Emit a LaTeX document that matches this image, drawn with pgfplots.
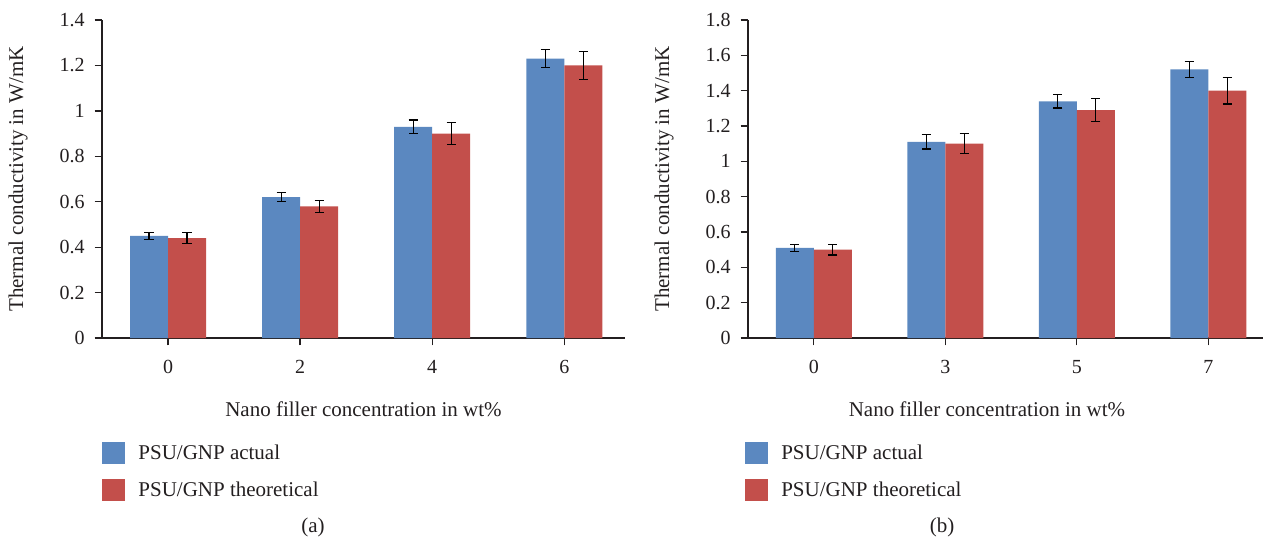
\documentclass[border=0pt]{standalone}
\usepackage{fontspec}
\setmainfont{Liberation Serif}
\usepackage{pgfplots}
\pgfplotsset{compat=1.18}

\definecolor{actual}{RGB}{91,136,192}
\definecolor{theory}{RGB}{195,79,75}
\definecolor{ink}{RGB}{35,31,32}

\pgfplotsset{
  sqlegend/.style={legend image code/.code={\fill[##1] (0pt,-5.5pt) rectangle (11.5pt,5.5pt);}},
  ebar/.style={error bars/.cd, y dir=both, y explicit,
    error bar style={black, line width=0.6pt},
    error mark options={rotate=90, black, line width=0.6pt, mark size=2.3pt}},
  panel/.style={
    scale only axis, height=159pt,
    ybar=0pt, bar width=19pt,
    ymin=0, xmin=-0.5, xtick={0,1,2,3},
    ytick distance=0.2,
    axis x line*=bottom, axis y line*=left,
    axis line style={ink, line width=0.65pt},
    tick style={ink, line width=0.65pt},
    tick align=outside, major tick length=3.7pt,
    /pgf/number format/assume math mode=true,
    tick label style={font=\fontsize{10}{11}\selectfont, text=ink},
    xticklabel style={yshift=-4pt},
    yticklabel style={xshift=-1.5pt},
    label style={font=\fontsize{10.5}{12}\selectfont, text=ink},
    ylabel={Thermal conductivity in W/mK},
    xlabel={Nano filler concentration in wt\%},
    ylabel style={at={(rel axis cs:0,0.5)}, yshift=42pt, anchor=center},
    legend cell align=left,
    legend style={draw=none, fill=none, anchor=north west, inner sep=0pt,
      row sep=7.5pt, font=\fontsize{10.5}{12}\selectfont, text=ink,
      nodes={inner sep=0pt},
      /tikz/every odd column/.append style={column sep=6.5pt}},
  }
}

\begin{document}
\begin{tikzpicture}
\useasboundingbox (0,0) rectangle (631.5pt,-268pt);

% (a)
\begin{axis}[panel,
    at={(51pt,-169pt)}, anchor=south west,
    width=261.5pt, xmax=3.46, ymax=1.4,
    xticklabels={0,2,4,6},
    xlabel style={at={(rel axis cs:0.5,0)}, yshift=-35.5pt, anchor=center},
    legend style={at={(rel axis cs:0,-0.327)}}]
\addplot[fill=actual, draw=none, sqlegend, ebar] coordinates {
  (0,0.45) +- (0,0.015)
  (1,0.62) +- (0,0.02)
  (2,0.93) +- (0,0.03)
  (3,1.23) +- (0,0.04)
};
\addplot[fill=theory, draw=none, sqlegend, ebar] coordinates {
  (0,0.44) +- (0,0.024)
  (1,0.58) +- (0,0.027)
  (2,0.90) +- (0,0.048)
  (3,1.20) +- (0,0.062)
};
\legend{PSU/GNP actual, PSU/GNP theoretical}
\end{axis}

% (b)
\begin{axis}[panel,
    at={(374pt,-169pt)}, anchor=south west,
    width=257.5pt, xmax=3.416, ymax=1.8,
    xticklabels={0,3,5,7},
    xlabel style={at={(rel axis cs:0.464,0)}, yshift=-35.5pt, anchor=center},
    legend style={at={(rel axis cs:-0.006,-0.327)}}]
\addplot[fill=actual, draw=none, sqlegend, ebar] coordinates {
  (0,0.51) +- (0,0.019)
  (1,1.11) +- (0,0.04)
  (2,1.34) +- (0,0.038)
  (3,1.52) +- (0,0.046)
};
\addplot[fill=theory, draw=none, sqlegend, ebar] coordinates {
  (0,0.50) +- (0,0.03)
  (1,1.10) +- (0,0.057)
  (2,1.29) +- (0,0.065)
  (3,1.40) +- (0,0.075)
};
\legend{PSU/GNP actual, PSU/GNP theoretical}
\end{axis}

\node[font=\fontsize{10.5}{12}\selectfont, text=ink] at (156.5pt,-263.5pt) {(a)};
\node[font=\fontsize{10.5}{12}\selectfont, text=ink] at (471pt,-263.5pt) {(b)};
\end{tikzpicture}
\end{document}
